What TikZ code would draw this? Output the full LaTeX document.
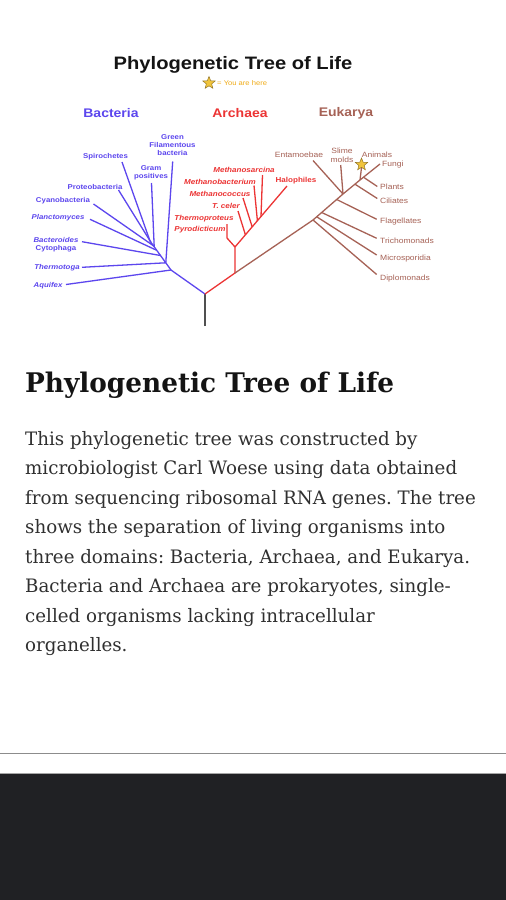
\documentclass[tikz,border=0pt]{standalone}
\usepackage{fontspec}
\setmainfont{DejaVu Serif}
\newfontfamily\dg[FakeStretch=1.12]{Liberation Sans}
\newfontfamily\bodyf[FakeStretch=0.985]{DejaVu Serif}
\newfontfamily\headf[FakeStretch=0.975]{DejaVu Serif}
\usetikzlibrary{shapes.geometric}
\definecolor{bact}{RGB}{92,70,238}
\definecolor{arch}{RGB}{236,52,52}
\definecolor{euk}{RGB}{166,98,86}
\definecolor{rootc}{RGB}{80,80,80}
\definecolor{starf}{RGB}{240,196,60}
\definecolor{stard}{RGB}{150,120,40}
\definecolor{youc}{RGB}{240,170,20}
\definecolor{bodyc}{RGB}{48,48,48}
\definecolor{headc}{RGB}{20,20,20}
\definecolor{barc}{RGB}{32,33,36}
\frenchspacing
\tikzset{
  bline/.style={draw=bact, line width=1.3pt},
  aline/.style={draw=arch, line width=1.3pt},
  eline/.style={draw=euk, line width=1.3pt},
  blab/.style={text=bact, inner sep=0, align=center, font=\dg\bfseries\fontsize{7}{8}\selectfont},
  alab/.style={text=arch, inner sep=0, align=center, font=\dg\bfseries\itshape\fontsize{7.2}{8}\selectfont},
  elab/.style={text=euk, inner sep=0, align=center, font=\dg\fontsize{7.6}{8.6}\selectfont},
  domlab/.style={inner sep=0, font=\dg\bfseries\fontsize{12.5}{14}\selectfont},
  bodyline/.style={anchor=base west, inner sep=0, text=bodyc, font=\bodyf\frenchspacing\fontsize{18.5}{22}\selectfont},
  goldstar/.style={star, star points=5, star point ratio=2.3, fill=starf, draw=stard, line width=0.5pt, minimum size=13pt, inner sep=0}
}
\begin{document}
\begin{tikzpicture}[x=1pt,y=-1pt]
\useasboundingbox (0,0) rectangle (506,900);
\fill[white] (0,0) rectangle (506,900);

% ---------- diagram title ----------
\node[inner sep=0, text=headc, font=\dg\bfseries\fontsize{18}{20}\selectfont] (dtitle) at (233,65) {Phylogenetic Tree of Life};
\node[goldstar] (legstar) at (209,83) {};
\node[anchor=west, inner sep=0, text=youc, font=\dg\fontsize{6.8}{7}\selectfont] (legtext) at (217,83.5) {= You are here};

% ---------- domain headers ----------
\node[domlab, text=bact] (hbact) at (111,113) {Bacteria};
\node[domlab, text=arch] (harch) at (240,113) {Archaea};
\node[domlab, text=euk] (heuk) at (346,113) {Eukarya};

% ---------- junctions ----------
\coordinate (root) at (205,326);
\coordinate (r0) at (205,294);
\coordinate (b1) at (171,270);
\coordinate (b2) at (165.8,262.8);
\coordinate (b3) at (160.5,255.5);
\coordinate (b4) at (156.7,250.3);
\coordinate (b5) at (154.2,246.8);
\coordinate (b6) at (153.6,245.9);
\coordinate (b7) at (151,242.4);
\coordinate (b8) at (150,241);
\coordinate (a0) at (235,273);
\coordinate (a1) at (235,247);
\coordinate (a2) at (245.4,234.8);
\coordinate (a3) at (252.2,226.9);
\coordinate (a4) at (257.4,220.8);
\coordinate (a5) at (261,216.5);
\coordinate (e1) at (313,220);
\coordinate (e2) at (316.7,216.8);
\coordinate (e3) at (321.7,212.5);
\coordinate (e4) at (336.7,199.5);
\coordinate (e5) at (343,194);
\coordinate (e6) at (355,184.2);
\coordinate (e7) at (360,180);
\coordinate (e8) at (363.5,177.2);

% ---------- trunk ----------
\draw[draw=rootc, line width=1.3pt] (root) -- (r0);
\draw[bline] (r0) -- (b1) -- (b8);
\draw[aline] (r0) -- (a0) -- (a1);
\draw[eline] (a0) -- (e1) -- (e5) -- (e7);

% ---------- Bacteria ----------
\node[blab] (aquifex) at (48,286) {\itshape Aquifex};
\node[blab] (thermotoga) at (57,267.5) {\itshape Thermotoga};
\node[blab] (bactero) at (56,244.5) {\itshape Bacteroides\\Cytophaga};
\node[blab] (plancto) at (58,218) {\itshape Planctomyces};
\node[blab] (cyano) at (63,200.5) {Cyanobacteria};
\node[blab] (proteo) at (95,186.7) {Proteobacteria};
\node[blab] (spiro) at (105.5,157) {Spirochetes};
\node[blab] (gram) at (151,172.5) {Gram\\positives};
\node[blab] (green) at (172.5,145.5) {Green\\Filamentous\\bacteria};
\coordinate (aquifexE) at (66,284.5);
\coordinate (thermotogaE) at (82,267.3);
\coordinate (bacteroE) at (82,241.7);
\coordinate (planctoE) at (90,219.3);
\coordinate (cyanoE) at (93.5,204);
\coordinate (proteoE) at (118.5,190);
\coordinate (spiroE) at (122,162);
\coordinate (gramE) at (151.5,183);
\coordinate (greenE) at (172.7,161.5);
\draw[bline] (aquifexE) -- (b1);
\draw[bline] (thermotogaE) -- (b2);
\draw[bline] (bacteroE) -- (b3);
\draw[bline] (planctoE) -- (b4);
\draw[bline] (cyanoE) -- (b6);
\draw[bline] (proteoE) -- (b7);
\draw[bline] (spiroE) -- (b8);
\draw[bline] (gramE) -- (b5);
\draw[bline] (greenE) -- (b2);

% ---------- Archaea ----------
\node[alab] (halo) at (296,180.5) {\upshape Halophiles};
\node[alab] (msarc) at (244,169.5) {Methanosarcina};
\node[alab] (mbact) at (220,181.5) {Methanobacterium};
\node[alab] (mcocc) at (220,193.5) {Methanococcus};
\node[alab] (tceler) at (226,205.7) {T. celer};
\node[alab] (tprot) at (204,219) {Thermoproteus};
\node[alab] (pyro) at (200,229.5) {Pyrodicticum};
\coordinate (haloE) at (287,186);
\coordinate (msarcE) at (262.5,175);
\coordinate (mbactE) at (254,185.5);
\coordinate (mcoccE) at (243,198);
\coordinate (tcelerE) at (238,211);
\coordinate (tprotE) at (227,224);
\coordinate (tprotK) at (227,238);
\draw[aline] (a1) -- (haloE);
\draw[aline] (msarcE) -- (a5);
\draw[aline] (mbactE) -- (a4);
\draw[aline] (mcoccE) -- (a3);
\draw[aline] (tcelerE) -- (a2);
\draw[aline] (tprotE) -- (tprotK) -- (a1);

% ---------- Eukarya ----------
\node[elab] (ent) at (299,154.5) {Entamoebae};
\node[elab] (slime) at (342,155.5) {Slime\\molds};
\node[elab] (animals) at (377,154.5) {Animals};
\node[elab, anchor=west] (fungi) at (382,164.5) {Fungi};
\node[elab, anchor=west] (plants) at (380,187) {Plants};
\node[elab, anchor=west] (cil) at (380,201) {Ciliates};
\node[elab, anchor=west] (flag) at (380,221.7) {Flagellates};
\node[elab, anchor=west] (trich) at (380,241) {Trichomonads};
\node[elab, anchor=west] (micro) at (380,258.3) {Microsporidia};
\node[elab, anchor=west] (diplo) at (380,278.3) {Diplomonads};
\coordinate (entE) at (313,160.5);
\coordinate (slimeE) at (340.7,165);
\coordinate (fungiE) at (380,164);
\coordinate (plantsE) at (377.3,186.5);
\coordinate (cilE) at (377.3,198.5);
\coordinate (flagE) at (376.7,219.3);
\coordinate (trichE) at (376.7,238.3);
\coordinate (microE) at (376.7,255);
\coordinate (diploE) at (376.7,274.5);
\draw[eline] (e7) -- (fungiE);
\draw[eline] (entE) -- (e5);
\draw[eline] (slimeE) -- (e5);
\draw[eline] (plantsE) -- (e8);
\draw[eline] (cilE) -- (e6);
\draw[eline] (flagE) -- (e4);
\draw[eline] (trichE) -- (e3);
\draw[eline] (microE) -- (e2);
\draw[eline] (diploE) -- (e1);
\node[goldstar] (youstar) at (361.5,164.5) {};
\draw[eline] (youstar.south) -- (e7);

% ---------- article text ----------
\node[anchor=base west, inner sep=0, text=headc, font=\headf\bfseries\fontsize{27}{30}\selectfont] (heading) at (25,392) {Phylogenetic Tree of Life};
\node[bodyline] (l1) at (25,445) {This phylogenetic tree was constructed by};
\node[bodyline] (l2) at (25,474.5) {microbiologist Carl Woese using data obtained};
\node[bodyline] (l3) at (25,504) {from sequencing ribosomal RNA genes. The tree};
\node[bodyline] (l4) at (25,533.5) {shows the separation of living organisms into};
\node[bodyline] (l5) at (25,563) {three domains: Bacteria, Archaea, and Eukarya.};
\node[bodyline] (l6) at (25,592.5) {Bacteria and Archaea are prokaryotes, single-};
\node[bodyline] (l7) at (25,622) {celled organisms lacking intracellular};
\node[bodyline] (l8) at (25,651.5) {organelles.};

% ---------- footer ----------
\draw[draw=black!45, line width=1.4pt] (0,753.5) -- (506,753.5);
\fill[barc] (0,773) rectangle (506,900);
\draw[draw=black!35, line width=0.8pt] (0,773) -- (506,773);
\end{tikzpicture}
\end{document}
